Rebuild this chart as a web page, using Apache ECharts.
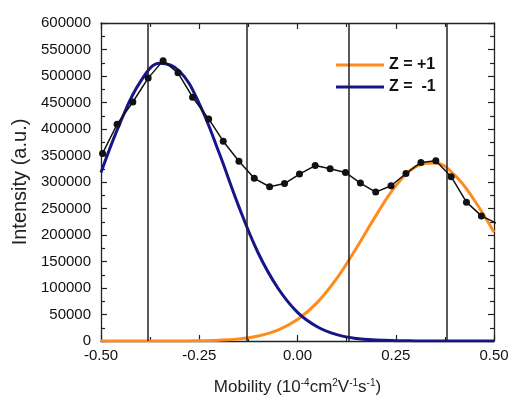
<!DOCTYPE html>
<html>
<head>
<meta charset="utf-8">
<script src="https://cdn.jsdelivr.net/npm/echarts@6/dist/echarts.min.js"></script>
<style>
  html, body { margin: 0; padding: 0; background: #fff; }
  #chart { width: 510px; height: 396px; }
</style>
</head>
<body>
<div id="chart"></div>
<script>
// measured points (black dotted trace)
const mobility = [-0.496, -0.459, -0.419, -0.380, -0.342, -0.304, -0.267, -0.226, -0.189, -0.149,
  -0.110, -0.071, -0.033, 0.005, 0.045, 0.083, 0.122, 0.160, 0.199, 0.238,
  0.276, 0.314, 0.352, 0.391, 0.430, 0.468, 0.507];
const intensity = [354000, 409000, 451000, 496000, 529000, 506000, 460000, 419000, 377000, 339000,
  307000, 291000, 297000, 315000, 331000, 325000, 318000, 298000, 281000, 293000,
  316000, 337000, 340000, 310000, 262000, 236000, 222000];

// fitted curves, every 0.05
const fitX = [-0.50, -0.45, -0.40, -0.35, -0.30, -0.25, -0.20, -0.15, -0.10, -0.05, 0.00,
  0.05, 0.10, 0.15, 0.20, 0.25, 0.30, 0.35, 0.40, 0.45, 0.50];
const zMinus = [318000, 414000, 489000, 524000, 509000, 448000, 356000, 255000, 166000, 100000, 54000,
  27000, 12000, 4800, 1800, 600, 200, 0, 0, 0, 0];
const zPlus = [0, 0, 0, 0, 0, 500, 1500, 4000, 9500, 20600, 40500,
  72400, 118000, 175500, 237000, 292600, 328500, 336000, 313000, 265600, 205000];

const dividers = [-0.375, -0.125, 0.125, 0.375];
const yTicks = { min: 0, max: 600000, step: 50000 };
const xTicks = { min: -0.5, max: 0.5, step: 0.25 };

const ORANGE = "#FF8C1A";
const BLUE = "#16168A";
const AXIS = "#222";

const pairs = (xs, ys) => xs.map((x, i) => [x, ys[i]]);

const chart = echarts.init(document.getElementById("chart"));

const baseX = {
  type: "value",
  min: xTicks.min,
  max: xTicks.max,
  interval: xTicks.step,
  axisLine: { show: true, onZero: false, lineStyle: { color: AXIS, width: 1.3 } },
  axisTick: { show: true, inside: true, length: 6, lineStyle: { color: AXIS, width: 1.2 } },
  minorTick: { show: true, splitNumber: 2, length: 4, lineStyle: { color: AXIS, width: 1.2 } },
  splitLine: { show: false }
};
const baseY = {
  type: "value",
  min: yTicks.min,
  max: yTicks.max,
  interval: yTicks.step,
  axisLine: { show: true, onZero: false, lineStyle: { color: AXIS, width: 1.3 } },
  axisTick: { show: true, inside: true, length: 6, lineStyle: { color: AXIS, width: 1.2 } },
  minorTick: { show: true, splitNumber: 2, length: 4, lineStyle: { color: AXIS, width: 1.2 } },
  splitLine: { show: false }
};

chart.setOption({
  animation: false,
  backgroundColor: "#fff",
  grid: { left: 101, right: 16, top: 23, bottom: 55, containLabel: false, outerBoundsMode: "none" },
  legend: {
    data: ["Z = +1", "Z =  -1"],
    orient: "vertical",
    left: 331,
    top: 52,
    itemWidth: 48,
    itemHeight: 3,
    itemGap: 6,
    icon: "rect",
    textStyle: { fontFamily: "Liberation Sans", fontWeight: "bold", fontSize: 16, color: "#111", lineHeight: 16 }
  },
  xAxis: [
    Object.assign({}, baseX, {
      position: "bottom",
      name: "{a|Mobility (10}{s|-4}{a|cm}{s|2}{a|V}{s|-1}{a|s}{s|-1}{a|)}",
      nameLocation: "middle",
      nameGap: 37,
      nameTextStyle: {
        rich: {
          a: { fontFamily: "Liberation Sans", fontSize: 17, color: "#222", lineHeight: 19 },
          s: { fontFamily: "Liberation Sans", fontSize: 10, color: "#222", lineHeight: 10, verticalAlign: "top" }
        }
      },
      axisLabel: {
        fontFamily: "Liberation Sans", fontSize: 15, color: "#111", margin: 7,
        formatter: v => v.toFixed(2)
      }
    }),
    Object.assign({}, baseX, { position: "top", axisLabel: { show: false } })
  ],
  yAxis: [
    Object.assign({}, baseY, {
      position: "left",
      name: "Intensity (a.u.)",
      nameLocation: "middle",
      nameGap: 69,
      nameTextStyle: { fontFamily: "Liberation Sans", fontSize: 20, color: "#222" },
      axisLabel: {
        fontFamily: "Liberation Sans", fontSize: 15, color: "#111", margin: 10,
        formatter: v => String(v)
      }
    }),
    Object.assign({}, baseY, { position: "right", axisLabel: { show: false } })
  ],
  series: [
    {
      name: "dividers",
      type: "line",
      data: [],
      silent: true,
      markLine: {
        silent: true,
        symbol: "none",
        label: { show: false },
        lineStyle: { color: "#222", width: 1.5, type: "solid" },
        data: dividers.map(x => ({ xAxis: x }))
      }
    },
    {
      name: "Z = +1",
      type: "line",
      data: pairs(fitX, zPlus),
      smooth: 0.4,
      showSymbol: false,
      symbol: "none",
      color: ORANGE,
      lineStyle: { color: ORANGE, width: 3 },
      z: 3
    },
    {
      name: "Z =  -1",
      type: "line",
      data: pairs(fitX, zMinus),
      smooth: 0.4,
      showSymbol: false,
      symbol: "none",
      color: BLUE,
      lineStyle: { color: BLUE, width: 3 },
      z: 4
    },
    {
      name: "data",
      type: "line",
      data: pairs(mobility, intensity),
      symbol: "circle",
      symbolSize: 7,
      clip: true,
      color: "#111",
      itemStyle: { color: "#111" },
      lineStyle: { color: "#111", width: 1.5 },
      z: 5
    }
  ]
});
</script>
</body>
</html>
